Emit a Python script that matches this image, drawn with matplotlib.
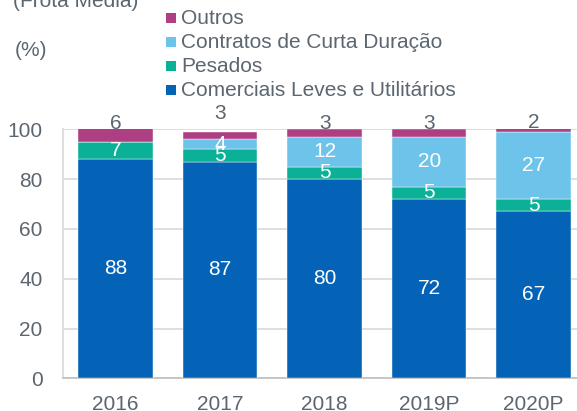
import matplotlib
matplotlib.use("Agg")
import matplotlib.pyplot as plt
from matplotlib.patches import Rectangle
import numpy as np

categories = ["2016", "2017", "2018", "2019P", "2020P"]
comerciais = [88, 87, 80, 72, 67]
pesados = [7, 5, 5, 5, 5]
contratos = [0, 4, 12, 20, 27]
outros = [6, 3, 3, 3, 2]
series_names = ["Comerciais Leves e Utilitários", "Pesados",
                "Contratos de Curta Duração", "Outros"]
yticks = [0, 20, 40, 60, 80, 100]

colors = ["#0563B7", "#0BB197", "#6EC3EA", "#AE3F82"]
txt_color = "#5B6670"
outros_label_y = [102.3, 106.3, 102.3, 102.3, 102.6]

plt.rcParams['font.family'] = ['Liberation Sans', 'DejaVu Sans']
FS = 15

W, H = 577, 411
fig = plt.figure(figsize=(W / 100, H / 100), dpi=100)
ax = fig.add_axes([63.3 / W, (H - 378.3) / H, (586 - 63.3) / W, (378.3 - 129.3) / H])

x = np.arange(len(categories))
width = 0.713
series = [comerciais, pesados, contratos, outros]
bottom = np.zeros(len(categories))
for vals, col, name in zip(series, colors, series_names):
    v = np.array(vals, dtype=float)
    ax.bar(x, v, width, bottom=bottom, color=col, edgecolor='white',
           linewidth=0.3, label=name, zorder=3)
    if name != "Outros":
        for xi, b, vi in zip(x, bottom, v):
            if vi > 0:
                ax.text(xi, b + vi / 2, f"{int(vi)}", ha='center', va='center',
                        color='white', fontsize=FS, zorder=5)
    else:
        for xi, vi, ly in zip(x, v, outros_label_y):
            ax.text(xi, ly, f"{int(vi)}", ha='center', va='center',
                    color=txt_color, fontsize=FS, zorder=5, clip_on=False)
    bottom = bottom + v

ax.set_xlim(-0.5, len(categories) - 0.5)
ax.set_ylim(0, 100)
ax.set_yticks(yticks)
ax.set_xticks(x)
ax.set_xticklabels(categories)
ax.tick_params(axis='both', length=0, labelsize=FS, colors=txt_color)
ax.tick_params(axis='y', pad=15)
ax.tick_params(axis='x', pad=12)
ax.yaxis.grid(True, color='#D9D9D9', linewidth=1.2, zorder=0)
ax.set_axisbelow(True)
for s in ['top', 'right']:
    ax.spines[s].set_visible(False)
ax.spines['left'].set_color('#D9D9D9')
ax.spines['left'].set_linewidth(1.2)
ax.spines['bottom'].set_color('#BFBFBF')
ax.spines['bottom'].set_linewidth(1.2)

# Titles
fig.text(13 / W, 1 - 7 / H, "(Frota Média)", ha='left', va='baseline',
         fontsize=FS, color=txt_color)
fig.text(15 / W, 1 - 50 / H, "(%)", ha='left', va='center',
         fontsize=FS, color=txt_color)

# Legend (manual, top-down order)
leg_rows = [("Outros", colors[3]), ("Contratos de Curta Duração", colors[2]),
            ("Pesados", colors[1]), ("Comerciais Leves e Utilitários", colors[0])]
y0 = 18.3
step = 23.9
for i, (name, col) in enumerate(leg_rows):
    yc = y0 + i * step
    fig.patches.append(Rectangle((166 / W, 1 - (yc + 5) / H), 10 / W, 10 / H,
                                 transform=fig.transFigure, facecolor=col,
                                 edgecolor='none'))
    fig.text(181 / W, 1 - yc / H, name, ha='left', va='center',
             fontsize=FS, color=txt_color)

fig.savefig("out.png", dpi=100)
